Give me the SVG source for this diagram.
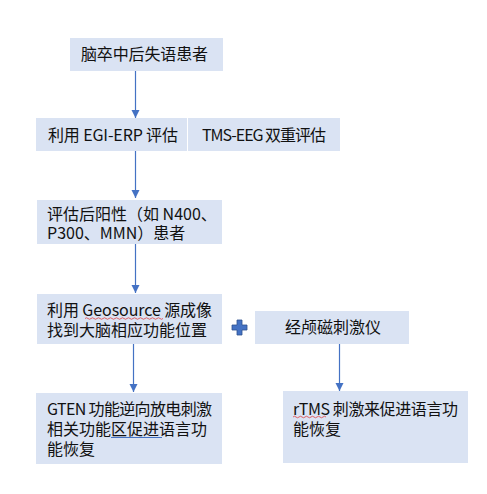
<svg xmlns="http://www.w3.org/2000/svg" width="487" height="494" viewBox="0 0 487 494">
<defs>
<style>
.box{fill:#DAE3F3;}
.t{font-family:"Noto Sans CJK SC","Liberation Serif",serif;font-size:16px;fill:#111;}
.conn{stroke:#4472C4;stroke-width:1.2;fill:none;}
</style>
<marker id="ah" markerUnits="userSpaceOnUse" markerWidth="9" markerHeight="9" refX="8" refY="4" orient="auto">
<path d="M0,0 L8,4 L0,8 z" fill="#4472C4"/>
</marker>
</defs>
<rect width="487" height="494" fill="#fff"/>
<g id="connectors">
<line class="conn" x1="135.5" y1="71" x2="135.5" y2="118" marker-end="url(#ah)"/>
<line class="conn" x1="135.5" y1="151" x2="135.5" y2="198" marker-end="url(#ah)"/>
<line class="conn" x1="135.5" y1="244" x2="135.5" y2="293" marker-end="url(#ah)"/>
<line class="conn" x1="133.5" y1="344" x2="133.5" y2="392" marker-end="url(#ah)"/>
<line class="conn" x1="339.5" y1="344" x2="339.5" y2="391" marker-end="url(#ah)"/>
</g>
<g id="n1">
<rect class="box" x="70" y="38" width="153" height="33"/>
<text class="t" x="81" y="60" textLength="127">脑卒中后失语患者</text>
</g>
<g id="n2">
<rect class="box" x="36" y="118" width="151" height="33"/>
<rect class="box" x="188" y="118" width="152" height="33"/>
<text class="t" x="48" y="141" textLength="130">利用 EGI-ERP 评估</text>
<text class="t" x="202" y="141" textLength="124">TMS-EEG 双重评估</text>
</g>
<g id="n3">
<rect class="box" x="37" y="200" width="185" height="44"/>
<text class="t" x="47" y="220">评估后阳性（如 N400、</text>
<text class="t" x="47" y="239">P300、MMN）患者</text>
</g>
<g id="n4">
<rect class="box" x="37" y="294" width="185" height="50"/>
<text class="t" x="47" y="316" textLength="165">利用 Geosource 源成像</text>
<text class="t" x="47" y="336" textLength="160">找到大脑相应功能位置</text>
<path d="M85,318.5 q1.5,-1.5 3,0 t3,0 t3,0 t3,0 t3,0 t3,0 t3,0 t3,0 t3,0 t3,0 t3,0 t3,0 t3,0 t3,0 t3,0 t3,0 t3,0 t3,0 t3,0 t3,0 t3,0 t3,0 t3,0 t3,0 t3,0 t3,0" stroke="#E04040" stroke-width="0.8" fill="none"/>
</g>
<g id="plus">
<path d="M237,320 h5 v5 h5 v5 h-5 v5 h-5 v-5 h-5 v-5 h5 z" fill="#4472C4" stroke="#2F528F" stroke-width="0.8"/>
</g>
<g id="n5">
<rect class="box" x="255" y="311" width="154" height="33"/>
<text class="t" x="285" y="333">经颅磁刺激仪</text>
</g>
<g id="n6">
<rect class="box" x="36" y="393" width="186" height="71"/>
<text class="t" x="47" y="415" textLength="165">GTEN 功能逆向放电刺激</text>
<text class="t" x="47" y="435" textLength="160">相关功能区促进语言功</text>
<text class="t" x="47" y="455">能恢复</text>
<path d="M111,437.5 H162" stroke="#4472C4" stroke-width="1"/>
</g>
<g id="n7">
<rect class="box" x="283" y="391" width="185" height="72"/>
<text class="t" x="293" y="415" textLength="165">rTMS 刺激来促进语言功</text>
<text class="t" x="293" y="435">能恢复</text>
<path d="M293,417 q1.5,-1.5 3,0 t3,0 t3,0 t3,0 t3,0 t3,0 t3,0 t3,0 t3,0 t3,0 t3,0" stroke="#E04040" stroke-width="0.8" fill="none"/>
</g>
</svg>
